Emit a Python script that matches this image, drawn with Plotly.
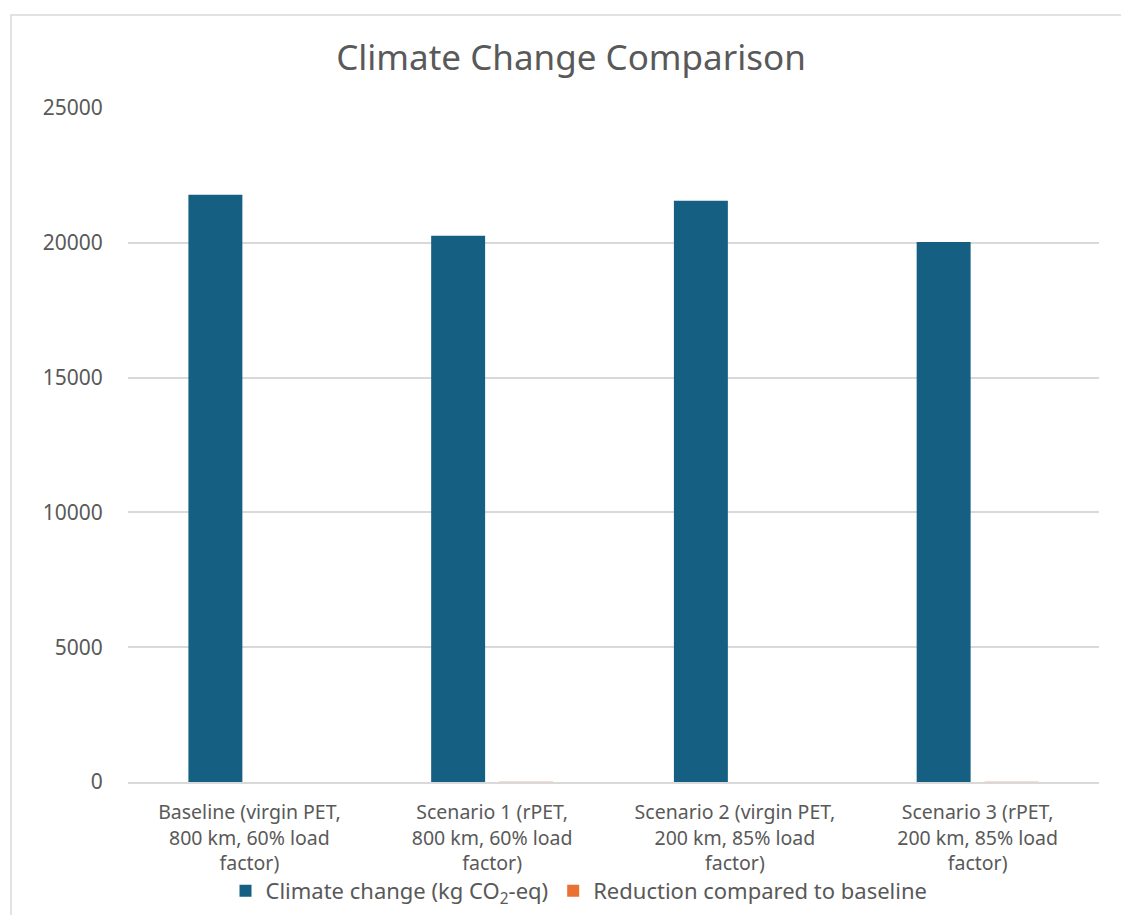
import plotly.graph_objects as go

# Scenario categories (multi-line axis labels)
categories = [
    "Baseline (virgin PET,<br>800 km, 60% load<br>factor)",
    "Scenario 1 (rPET,<br>800 km, 60% load<br>factor)",
    "Scenario 2 (virgin PET,<br>200 km, 85% load<br>factor)",
    "Scenario 3 (rPET,<br>200 km, 85% load<br>factor)",
]
climate_change = [21780, 20260, 21560, 20030]      # kg CO2-eq
reduction_vs_baseline = [0.0, 7.0, 1.0, 8.0]        # % reduction

W, H = 1121, 915
L, R, T, B = 128, 1099, 108, 782   # plot area in pixels

FONT = "Noto Sans"
GREY = "#595959"
GRID = "#d9d9d9"

fig = go.Figure()
fig.add_trace(go.Bar(
    x=categories, y=climate_change,
    name="Climate change (kg CO<sub>2</sub>-eq)",
    marker=dict(color="#156082", line=dict(width=0)),
))
# tiny values: keep sub-pixel bars at their true (invisible) height
fig.add_trace(go.Bar(
    x=categories, y=reduction_vs_baseline,
    name="Reduction compared to baseline",
    marker=dict(color="rgba(233,113,50,0.995)", line=dict(width=0)),
))

def px_x(p):
    return (p - L) / (R - L)

def px_y(p):
    return (B - p) / (B - T)

# outer chart frame
fig.add_shape(type="rect", xref="paper", yref="paper",
              x0=px_x(11), x1=px_x(1130), y0=px_y(925), y1=px_y(15),
              line=dict(color=GRID, width=1.5), fillcolor="rgba(0,0,0,0)",
              layer="below")

fig.update_layout(
    width=W, height=H,
    margin=dict(l=L, r=W - R, t=T, b=H - B, pad=0, autoexpand=False),
    paper_bgcolor="white", plot_bgcolor="white",
    font=dict(family=FONT, color=GREY, size=20),
    barmode="group", bargap=0.44, bargroupgap=0.206,
    title=dict(text="Climate Change Comparison",
               font=dict(family=FONT, size=35, color=GREY),
               xref="container", yref="container",
               x=571 / W, xanchor="center", y=1 - 58 / H, yanchor="middle"),
    showlegend=True,
    legend=dict(orientation="h", xref="container", yref="container",
                x=579 / W, xanchor="center", y=1 - 891 / H, yanchor="middle",
                font=dict(family=FONT, size=22, color=GREY),
                itemwidth=30, tracegroupgap=0, bgcolor="rgba(0,0,0,0)"),
    xaxis=dict(showline=True, linecolor=GRID, linewidth=1.5,
               ticks="outside", ticklen=12, tickcolor="rgba(0,0,0,0)",
               tickfont=dict(family=FONT, size=19.5, color=GREY),
               showgrid=False, fixedrange=True, automargin=False),
    yaxis=dict(range=[0, 25000], dtick=5000, tick0=0,
               showgrid=True, gridcolor=GRID, gridwidth=1.5,
               zeroline=False, showline=False,
               ticks="outside", ticklen=20, tickcolor="rgba(0,0,0,0)",
               tickfont=dict(family=FONT, size=21, color=GREY),
               tickformat="d", fixedrange=True, automargin=False),
)

fig.write_html("out.html")
